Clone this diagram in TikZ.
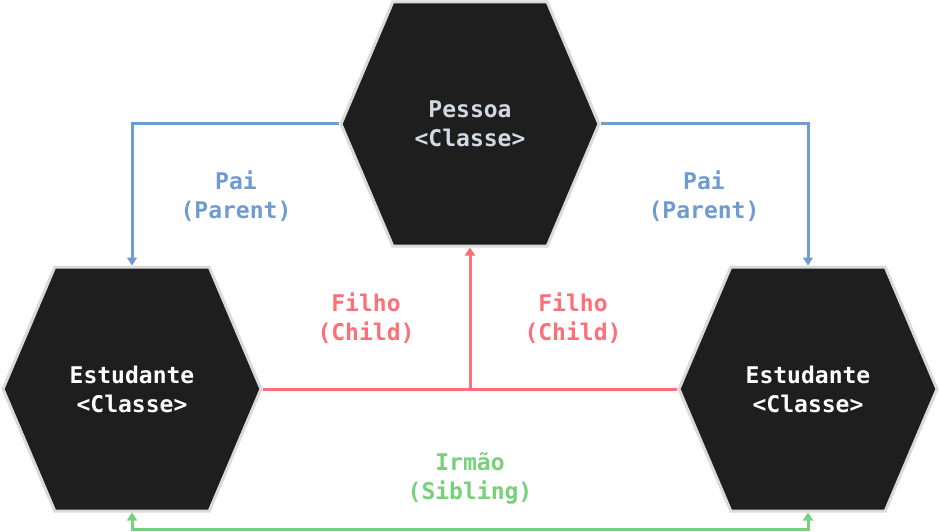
\documentclass[tikz,border=0pt]{standalone}
\usepackage{fontspec}
\setmonofont{DejaVu Sans Mono}
\usetikzlibrary{shapes.symbols,arrows.meta,positioning}
\definecolor{hexfill}{HTML}{1E1E1E}
\definecolor{hexedge}{HTML}{DADADA}
\definecolor{parentblue}{HTML}{6F9BD1}
\definecolor{childred}{HTML}{FF6F7A}
\definecolor{siblinggreen}{HTML}{77D17B}
\definecolor{classtext}{HTML}{D3D9E2}
\tikzset{
  hexa/.style={shape=signal, signal to=west and east, signal pointer angle=134,
    fill=hexfill, draw=hexedge, line width=3pt, minimum width=258pt,
    minimum height=244pt, inner sep=0pt, align=center, text=white,
    font=\ttfamily\bfseries\fontsize{23}{29}\selectfont},
  rel/.style={line width=3pt},
  lbl/.style={align=center, font=\ttfamily\bfseries\fontsize{23}{29}\selectfont},
  tip/.style={-{Triangle[width=10pt,length=8pt]}}
}
\begin{document}
\begin{tikzpicture}[x=1pt,y=-1pt]
\useasboundingbox (0,0) rectangle (940,532);

% classes
\node[hexa, text=classtext] (pessoa) at (470,124) {Pessoa\\<Classe>};
\node[hexa] (estL) at (132,389) {Estudante\\<Classe>};
\node[hexa] (estR) at (808,389) {Estudante\\<Classe>};

% parent links
\draw[rel, parentblue, tip] (pessoa.west) -| (estL.north);
\draw[rel, parentblue, tip] (pessoa.east) -| (estR.north);
\node[lbl, text=parentblue] (paiL) at (236,196) {Pai\\(Parent)};
\node[lbl, text=parentblue] (paiR) at (704,196) {Pai\\(Parent)};

% child links
\draw[rel, childred] (estL.east) -- (estR.west);
\coordinate (junct) at (estL.east -| pessoa.south);
\draw[rel, childred, tip] (junct) -- (pessoa.south);
\node[lbl, text=childred] (filhoL) at (366,318) {Filho\\(Child)};
\node[lbl, text=childred] (filhoR) at (573,318) {Filho\\(Child)};

% sibling link
\draw[rel, siblinggreen, {Triangle[width=10pt,length=8pt]}-{Triangle[width=10pt,length=8pt]}]
  (estL.south) -- ++(0,17) -| (estR.south);
\node[lbl, text=siblinggreen] (irmao) at (470,478) {Irmão\\(Sibling)};
\end{tikzpicture}
\end{document}
